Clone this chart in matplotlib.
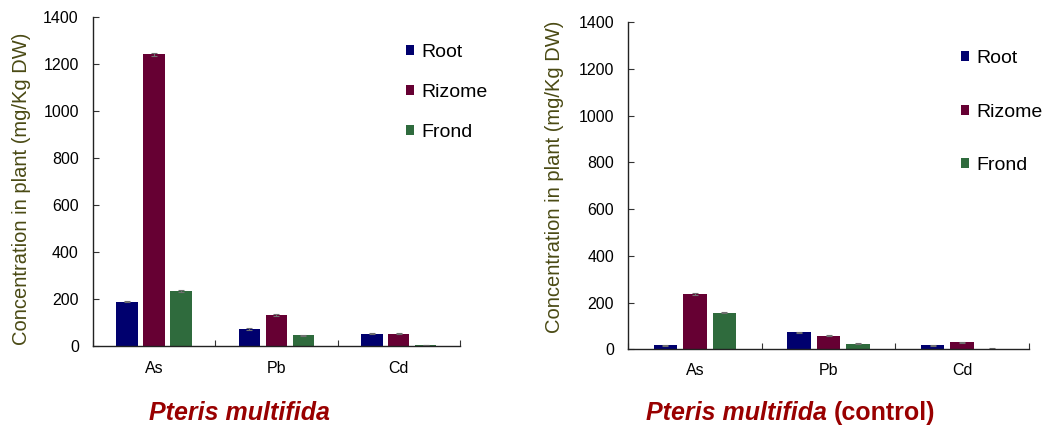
import matplotlib
matplotlib.use("Agg")
import matplotlib.pyplot as plt
import numpy as np

plt.rcParams['font.family'] = ['Liberation Sans', 'DejaVu Sans']

metals = ['As', 'Pb', 'Cd']
tissues = ['Root', 'Rizome', 'Frond']
colors = ['#00006e', '#660033', '#2f6b3d']
yticks = [0, 200, 400, 600, 800, 1000, 1200, 1400]

# Pteris multifida grown on contaminated soil
treated = {
    'Root':   [188, 71, 51],
    'Rizome': [1241, 131, 50],
    'Frond':  [233, 44, 2],
}
treated_err = {
    'Root':   [4, 3, 2],
    'Rizome': [5, 3, 2],
    'Frond':  [3, 2, 1],
}

# Pteris multifida control plants
control = {
    'Root':   [18, 73, 17],
    'Rizome': [235, 58, 30],
    'Frond':  [157, 24, 3],
}
control_err = {
    'Root':   [2, 2, 2],
    'Rizome': [4, 3, 3],
    'Frond':  [2, 2, 1],
}

W, H = 1046, 428
fig = plt.figure(figsize=(W / 100, H / 100), dpi=100)


def px_axes(x0, x1, ytop, ybot):
    return fig.add_axes([x0 / W, 1 - ybot / H, (x1 - x0) / W, (ybot - ytop) / H])


def draw_panel(ax, data, err, legend_anchor, labelspacing, ylabel_xy, xpad):
    centers = np.arange(len(metals)) + 0.5
    step, width = 0.22, 0.175
    for i, t in enumerate(tissues):
        ax.bar(centers + (i - 1) * step, data[t], width, color=colors[i],
               yerr=err[t], error_kw=dict(ecolor='#707070', elinewidth=0.8,
                                          capsize=2.5, capthick=0.8),
               label=t, zorder=2)
    ax.set_xlim(0, 3)
    ax.set_ylim(0, 1400)
    ax.set_yticks(yticks)
    ax.set_xticks([0, 1, 2, 3])
    ax.set_xticklabels([])
    ax.set_xticks(centers, minor=True)
    ax.set_xticklabels(metals, minor=True)
    ax.tick_params(axis='x', which='minor', length=0, pad=xpad, labelsize=11.5)
    ax.tick_params(axis='x', which='major', direction='in', length=4,
                   color='#333333')
    ax.tick_params(axis='y', direction='in', length=4, color='#333333',
                   labelsize=11.5, pad=10)
    for s in ('top', 'right'):
        ax.spines[s].set_visible(False)
    for s in ('left', 'bottom'):
        ax.spines[s].set_color('#222222')
        ax.spines[s].set_linewidth(1.0)
    ax.set_ylabel('Concentration in plant (mg/Kg DW)', fontsize=14.5,
                  color='#4a4a14')
    ax.yaxis.set_label_coords(*ylabel_xy)
    ax.legend(loc='upper left', bbox_to_anchor=legend_anchor,
              bbox_transform=fig.transFigure, frameon=False, fontsize=14,
              handlelength=0.42, handleheight=0.42, handletextpad=0.35,
              labelspacing=labelspacing, borderpad=0, borderaxespad=0)


ax1 = px_axes(92.7, 460, 17, 345.7)
draw_panel(ax1, treated, treated_err, (406 / W, 1 - 44 / H), 1.19,
           (-0.168, 0.478), 11)

ax2 = px_axes(628, 1029, 22, 349.3)
draw_panel(ax2, control, control_err, (961 / W, 1 - 50 / H), 1.88,
           (-0.16, 0.528), 10)

title_color = '#990000'
fig.text(239 / W, 1 - 413 / H, 'Pteris multifida', ha='center', va='center',
         fontsize=18, fontweight='bold', fontstyle='italic', color=title_color)
fig.text(827 / W, 1 - 413 / H, 'Pteris multifida', ha='right', va='center',
         fontsize=18, fontweight='bold', fontstyle='italic', color=title_color)
fig.text(834 / W, 1 - 413 / H, '(control)', ha='left', va='center',
         fontsize=18, fontweight='bold', color=title_color)

fig.savefig('out.png', dpi=100)
